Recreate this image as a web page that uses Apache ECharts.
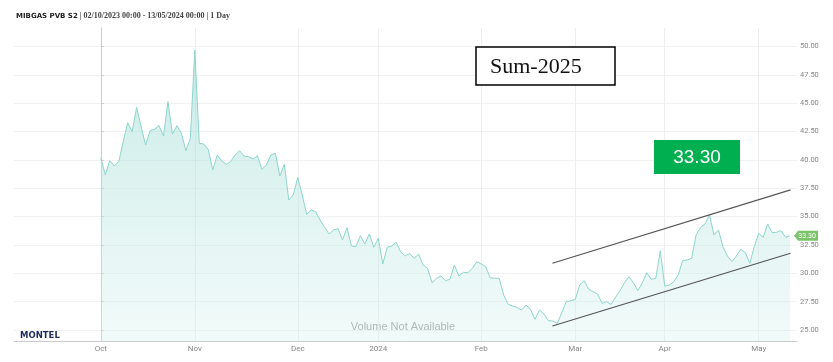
<!DOCTYPE html>
<html>
<head>
<meta charset="utf-8">
<script src="https://cdn.jsdelivr.net/npm/echarts@6/dist/echarts.min.js"></script>
<style>html,body{margin:0;padding:0;background:#fff}#c{width:833px;height:362px}</style>
</head>
<body>
<div id="c"></div>
<script>
// x tick labels (first trading day of each month) and their trading-day index
const monthLabels = ['Oct','Nov','Dec','2024','Feb','Mar','Apr','May'];
const monthStartIdx = [0,21,44,62,85,106,126,147];
// y tick values
const yTicks = [25,27.5,30,32.5,35,37.5,40,42.5,45,47.5,50];
// daily settlement prices, 02/10/2023 .. 10/05/2024 (trading days)
const prices = [
40.19,38.67,39.93,39.46,39.84,41.6,43.28,42.49,44.64,42.93,41.31,42.58,42.70,43.02,42.11,45.13,42.28,43.02,42.35,40.81,41.90,49.69,41.46,
41.40,40.93,39.11,40.43,39.93,39.61,39.84,40.43,40.81,40.34,40.28,40.08,40.37,39.17,39.55,40.43,40.58,38.58,39.61,36.46,36.90,38.46,36.90,35.20,35.58,35.43,34.70,34.06,33.47,33.82,33.93,32.94,34.02,32.41,32.35,33.32,32.58,33.47,32.29,33.09,30.82,32.29,32.41,32.73,31.90,
31.53,31.76,31.32,31.70,30.73,30.44,29.17,29.56,29.76,29.35,29.47,30.73,29.76,30.09,30.05,30.44,31.02,30.82,30.58,29.61,29.56,29.56,28.09,27.26,27.12,27.00,26.76,27.20,26.83,25.94,26.76,26.41,25.82,25.79,25.59,26.53,27.50,27.58,27.70,28.97,29.35,28.59,28.38,28.17,27.35,27.50,27.26,27.88,28.47,29.17,29.70,29.17,28.47,29.17,30.05,29.47,29.56,31.99,28.88,28.94,29.26,29.85,31.11,31.17,31.32,33.38,34.06,34.35,35.14,33.38,33.82,32.35,31.53,31.02,31.53,32.12,31.82,30.88,32.35,33.53,33.17,34.35,33.58,33.62,33.76,33.17,33.30
];
// hand-drawn trend channel: [trading-day index, price]
const upperTrend = [[100.9,30.89],[154.1,37.36]];
const lowerTrend = [[100.9,25.35],[154.1,31.77]];
const lastPrice = prices[prices.length-1];

const chart = echarts.init(document.getElementById('c'));
chart.setOption({
  animation:false,
  backgroundColor:'#fff',
  title:{
    left:16, top:12, padding:0,
    text:'{b|MIBGAS PVB S2}{n| | 02/10/2023 00:00 - 13/05/2024 00:00 | 1 Day}',
    textStyle:{rich:{
      b:{fontFamily:'DejaVu Sans',fontWeight:'bold',fontSize:7,color:'#222'},
      n:{fontFamily:'Liberation Serif',fontSize:8,color:'#444'}
    }}
  },
  grid:{left:14,right:36,top:28,bottom:21},
  xAxis:{
    type:'value', min:-19.4, max:155.55,
    axisLine:{show:true,lineStyle:{color:'#ccc'}},
    axisTick:{show:false,customValues:monthStartIdx},
    axisLabel:{customValues:monthStartIdx,color:'#888',fontSize:8,fontFamily:'Roboto',margin:4,
      formatter:(v)=>monthLabels[monthStartIdx.indexOf(Math.round(v))]||''},
    splitLine:{show:true,lineStyle:{color:'#eeeeee'}}
  },
  yAxis:{
    type:'value', position:'right', min:24.03, max:51.63,
    axisLine:{show:true,lineStyle:{color:'#ccc'}},
    axisTick:{show:true,customValues:yTicks,length:3,lineStyle:{color:'#ccc'}},
    axisLabel:{customValues:yTicks,color:'#888',fontSize:7.5,fontFamily:'Roboto',margin:3,
      formatter:(v)=>v.toFixed(2)},
    splitLine:{show:true,lineStyle:{color:'#f1f1f1'}}
  },
  graphic:[
    {type:'text',left:20,top:331,style:{text:'MONTEL',fontFamily:'DejaVu Sans',fontWeight:'bold',fontSize:8.5,fill:'#1d2b5b'}},
    {type:'text',x:403,y:327,style:{text:'Volume Not Available',fontFamily:'Liberation Sans',fontSize:11,fill:'#9a9a9a',align:'center',verticalAlign:'middle'}},
    {type:'rect',shape:{x:476,y:47,width:139,height:38},style:{fill:'#fff',stroke:'#000',lineWidth:1.5},z:10},
    {type:'text',x:490,y:67,style:{text:'Sum-2025',fontFamily:'Liberation Serif',fontSize:22,fill:'#111',verticalAlign:'middle'},z:11},
    {type:'rect',shape:{x:654,y:140,width:86,height:34},style:{fill:'#00b050'},z:10},
    {type:'text',x:697,y:158,style:{text:lastPrice.toFixed(2),fontFamily:'Liberation Sans',fontSize:19,fill:'#fff',align:'center',verticalAlign:'middle'},z:11}
  ],
  series:[
    {
      type:'line', data:prices.map((v,i)=>[i,v]), symbol:'none',
      lineStyle:{color:'#8dd6cd',width:1},
      areaStyle:{color:new echarts.graphic.LinearGradient(0,0,0,1,[
        {offset:0,color:'rgba(140,212,204,0.68)'},
        {offset:1,color:'rgba(215,242,239,0.5)'}])},
      markPoint:{
        symbol:'path://M0,5 L4,0 L24,0 L24,10 L4,10 Z',
        symbolSize:[24,10], symbolKeepAspect:false, symbolOffset:[16,0],
        itemStyle:{color:'#7cc26c'},
        label:{show:true,color:'#fff',fontSize:7,fontFamily:'Roboto',offset:[1,0],formatter:(p)=>p.value.toFixed(2)},
        data:[{coord:[prices.length-1,lastPrice],value:lastPrice}]
      },
      z:3
    },
    {type:'line',data:upperTrend,symbol:'none',lineStyle:{color:'#555',width:1.2},z:4},
    {type:'line',data:lowerTrend,symbol:'none',lineStyle:{color:'#555',width:1.2},z:4}
  ]
});
</script>
</body>
</html>
